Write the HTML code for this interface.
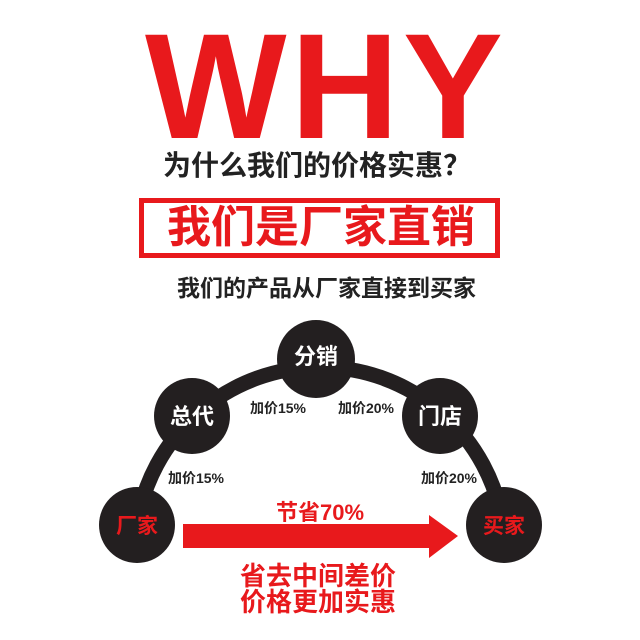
<!DOCTYPE html>
<html><head><meta charset="utf-8"><style>
html,body{margin:0;padding:0;background:#fff;}
body{width:640px;height:640px;position:relative;overflow:hidden;font-family:"Liberation Sans","Noto Sans CJK SC",sans-serif;}
.a{position:absolute;white-space:nowrap;font-weight:bold;}
</style></head><body>
<div class="a" style="left:145px;top:11px;font-size:150px;color:#e8191c;letter-spacing:4px;line-height:150px;">WHY</div>
<div class="a" style="left:163px;top:148px;font-size:28px;line-height:36px;color:#222;">为什么我们的价格实惠？</div>
<div style="position:absolute;left:139px;top:198px;width:351px;height:50px;border:5px solid #e8191c;"></div>
<div class="a" style="left:150px;top:200px;width:342px;text-align:center;font-size:44px;line-height:56px;color:#e8191c;">我们是厂家直销</div>
<div class="a" style="left:177px;top:272px;font-size:23px;line-height:32px;color:#222;">我们的产品从厂家直接到买家</div>
<svg width="640" height="640" style="position:absolute;left:0;top:0" xmlns="http://www.w3.org/2000/svg">
<path d="M137 525 A185 185 0 0 1 503 525" fill="none" stroke="#231f20" stroke-width="15"/>
<g fill="#231f20">
<circle cx="137" cy="525" r="38"/>
<circle cx="192" cy="416" r="38"/>
<circle cx="316" cy="359" r="39"/>
<circle cx="440" cy="416" r="38"/>
<circle cx="504" cy="525" r="38"/>
</g>
<polygon points="183,524 429,524 429,515 458,536 429,558 429,548 183,548" fill="#e8191c"/>
<g font-family="Liberation Sans,Noto Sans CJK SC,sans-serif" font-weight="bold" text-anchor="middle">
<text x="137" y="533" font-size="21" fill="#e8191c">厂家</text>
<text x="504" y="533" font-size="21" fill="#e8191c">买家</text>
<text x="192" y="424" font-size="22" fill="#fff">总代</text>
<text x="316" y="364" font-size="22" fill="#fff">分销</text>
<text x="440" y="424" font-size="22" fill="#fff">门店</text>
<g font-size="14" fill="#222">
<text x="278" y="413">加价15%</text>
<text x="366" y="413">加价20%</text>
<text x="196" y="483">加价15%</text>
<text x="449" y="483">加价20%</text>
</g>
<text x="320" y="520" font-size="22" fill="#e8191c">节省70%</text>
<text x="318" y="585" font-size="26" fill="#e8191c">省去中间差价</text>
<text x="318" y="611" font-size="26" fill="#e8191c">价格更加实惠</text>
</g>
</svg>
</body></html>
